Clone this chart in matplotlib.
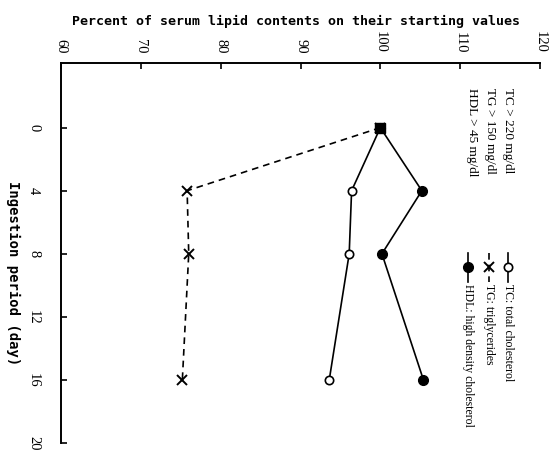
import matplotlib
matplotlib.use("Agg")
import matplotlib.pyplot as plt

# Ingestion day and percent of starting serum lipid value
days = [0, 4, 8, 16]
tc = [100, 96.4, 96.1, 93.6]
tg = [100, 75.8, 76.0, 75.2]
hdl = [100, 105.2, 100.2, 105.4]

pct_ticks = [60, 70, 80, 90, 100, 110, 120]
day_ticks = [0, 4, 8, 12, 16, 20]

series_labels = ["TC: total cholesterol", "TG: triglycerides",
                 "HDL: high density cholesterol"]
criteria = ["TC > 220 mg/dl", "TG > 150 mg/dl", "HDL > 45 mg/dl"]

title = "Percent of serum lipid contents on their starting values"
day_label = "Ingestion period (day)"

W, H = 549, 465
fig = plt.figure(figsize=(W / 100, H / 100), dpi=100)
ax = fig.add_axes([61 / W, 1 - 443 / H, (540 - 61) / W, (443 - 63) / H])

serif = "Liberation Serif"
lw = 1.2

styles = [
    dict(ls="-", marker="o", mfc="white", mec="black", ms=6.0, mew=1.2),
    dict(ls=(0, (4, 3)), marker="x", mfc="black", mec="black", ms=6.5, mew=1.4),
    dict(ls="-", marker="o", mfc="black", mec="black", ms=7.0, mew=1.0),
]

for vals, st in zip([tc, tg, hdl], styles):
    ax.plot(vals, days, color="black", lw=lw, zorder=3, **st)

# common starting point
ax.plot([tc[0]], [days[0]], ls="none", marker="s", color="black", ms=7.5, zorder=5)

ax.set_xlim(60, 120)
ax.set_ylim(20, -4.1)
ax.set_xticks(pct_ticks)
ax.set_yticks(day_ticks)

for side in ("right", "bottom"):
    ax.spines[side].set_visible(False)
for side in ("top", "left"):
    ax.spines[side].set_linewidth(1.4)

ax.tick_params(axis="x", top=True, bottom=False, labeltop=True, labelbottom=False,
               direction="in", length=4, width=1.2, pad=7, labelsize=10.5)
ax.tick_params(axis="y", left=True, right=False, direction="in", length=4,
               width=1.2, pad=15, labelsize=10.5)
for t in ax.get_xticklabels():
    t.set_rotation(-90)
    t.set_family(serif)
    t.set_ha("center")
    t.set_va("bottom")
for t in ax.get_yticklabels():
    t.set_rotation(-90)
    t.set_family(serif)
    t.set_ha("right")
    t.set_va("center")

fig.text(296 / W, 1 - 21 / H, title, ha="center", va="center",
         family="DejaVu Sans Mono", fontweight="bold", size=9.5)
fig.text(13 / W, 1 - 273 / H, day_label, rotation=-90, ha="center", va="center",
         family="DejaVu Sans Mono", fontweight="bold", size=10)

# criteria for subject selection
for x, txt in zip([0.933, 0.896, 0.858], criteria):
    ax.text(x, 0.934, txt, transform=ax.transAxes, rotation=-90,
            ha="center", va="top", family=serif, size=9.5)

# key
for x, txt, st in zip([0.933, 0.893, 0.850], series_labels, styles):
    ax.plot([x, x, x], [0.5, 0.462, 0.424], transform=ax.transAxes,
            color="black", lw=lw, markevery=[1], clip_on=False, **st)
    ax.text(x, 0.418, txt, transform=ax.transAxes, rotation=-90,
            ha="center", va="top", family=serif, size=8.5)

fig.savefig("out.png", dpi=100)
